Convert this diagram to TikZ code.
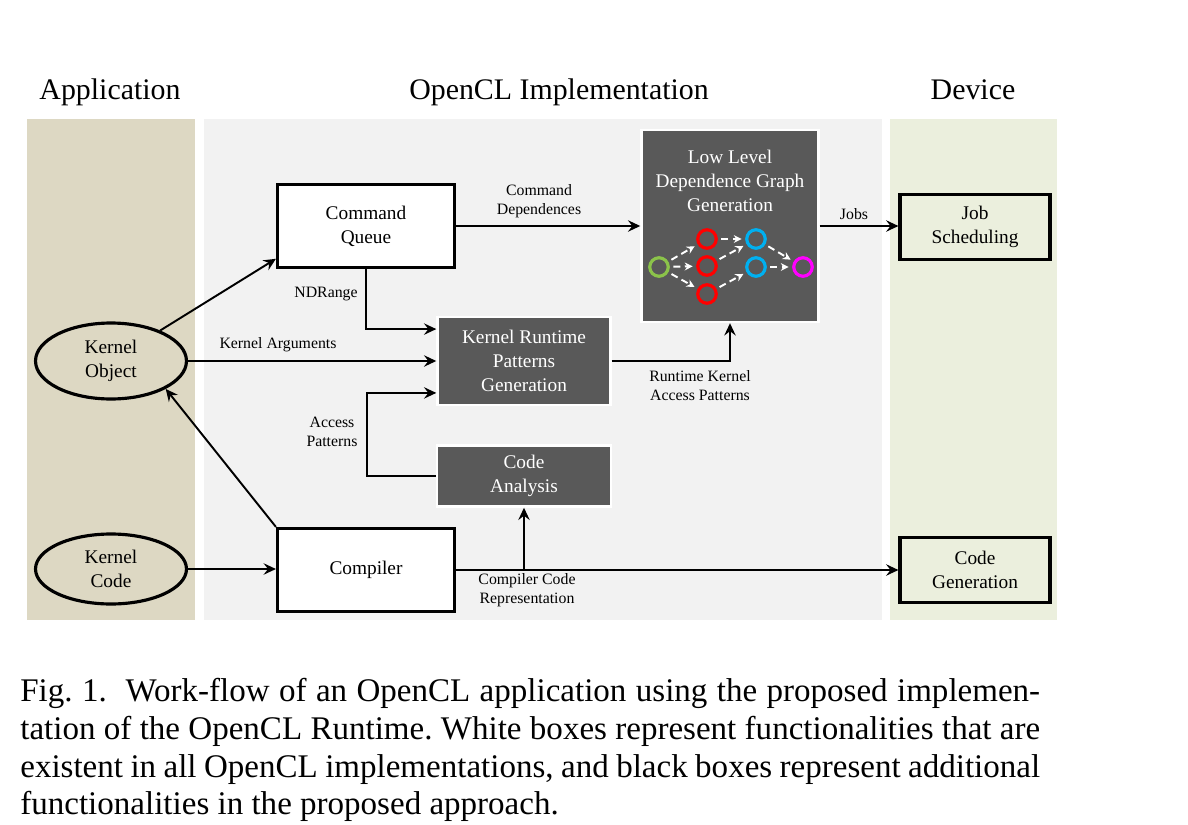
\documentclass[tikz,border=0pt]{standalone}
\usepackage{fontspec}
\setmainfont{Liberation Serif}
\usetikzlibrary{arrows.meta,shapes.geometric,calc}
\definecolor{appbg}{RGB}{221,216,195}
\definecolor{implbg}{RGB}{242,242,242}
\definecolor{devbg}{RGB}{235,239,221}
\definecolor{boxgray}{RGB}{89,89,89}
\definecolor{nodegreen}{RGB}{139,195,74}
\definecolor{nodeblue}{RGB}{0,176,240}
\definecolor{nodepink}{RGB}{255,0,255}
\frenchspacing
\begin{document}
\begin{tikzpicture}[x=0.02cm,y=-0.02cm,
		>={Stealth[length=7pt,width=6.5pt,inset=2.5pt]},
		conn/.style={->,line width=1.1pt},
		boxtext/.style={align=center,font=\fontsize{11}{13.6}\selectfont},
		whitebox/.style={boxtext,draw,line width=1.8pt,fill=white,minimum width=3.54cm,minimum height=1.66cm},
		darkbox/.style={boxtext,draw=white,line width=1.4pt,fill=boxgray,text=white},
		devbox/.style={boxtext,draw,line width=1.8pt,fill=devbg,minimum width=3.0cm,minimum height=1.3cm},
		kernel/.style={boxtext,ellipse,draw,line width=1.8pt,fill=appbg,inner sep=1pt,minimum width=3.02cm,minimum height=1.52cm},
		lbl/.style={align=center,inner sep=1pt,font=\fontsize{9}{10.8}\selectfont},
		title/.style={anchor=base,font=\fontsize{17}{20}\selectfont},
		gnode/.style={circle,draw,line width=1.8pt,minimum size=0.37cm,inner sep=0pt},
		gedge/.style={white,line width=1.1pt,dash pattern=on 4pt off 2.5pt,shorten <=2pt,shorten >=2pt,-{Stealth[length=4.5pt,width=4.5pt]}}]
	\useasboundingbox (0,0) rectangle (1188,825);
	\fill[appbg] (27,119) rectangle (195,620);
	\fill[implbg] (204,119) rectangle (882,620);
	\fill[devbg] (890,119) rectangle (1057,620);
	\node[title] (tApp) at (110,99) {Application};
	\node[title] (tImpl) at (559,99) {OpenCL Implementation};
	\node[title] (tDev) at (973,99) {Device};
	
	\node[kernel] (KO) at (111,361) {Kernel\\Object};
	\node[kernel,minimum height=1.4cm] (KC) at (111,569) {Kernel\\Code};
	\node[whitebox] (CQ) at (366,226) {Command\\Queue};
	\node[whitebox] (CP) at (366,570) {Compiler};
	\node[darkbox,minimum width=3.46cm,minimum height=1.76cm] (KR) at (524,361) {Kernel Runtime\\Patterns\\Generation};
	\node[darkbox,minimum width=3.48cm,minimum height=1.22cm] (CA) at (524,476) {Code\\Analysis};
	\node[darkbox,minimum width=3.54cm,minimum height=3.84cm] (LL) at (730,226) {};
	\node[boxtext,text=white] (LLt) at (730,181) {Low Level\\Dependence Graph\\Generation};
	\node[devbox] (JS) at (975,227) {Job\\Scheduling};
	\node[devbox] (CG) at (975,570) {Code\\Generation};
	
	\foreach \n/\x/\y/\c in {g/659/267/nodegreen,r1/707/239/red,r2/707/266/red,r3/707/294/red,b1/756/239/nodeblue,b2/756/267/nodeblue,m/803/267/nodepink}
		\node[gnode,draw=\c] (\n) at (\x,\y) {};
	\foreach \a/\b in {g/r1,g/r2,g/r3,r1/b1,r2/b1,r3/b2,b1/m,b2/m}
		\draw[gedge] (\a) -- (\b);
	
	\draw[conn] (KO) -- (CQ.200);
	\draw[conn] (KO.east) -- (KO.east -| KR.west);
	\node[lbl] (lKA) at (278,345) {Kernel Arguments};
	\draw[conn] (KC.east) -- (KC.east -| CP.west);
	\draw[conn] (CP.north west) -- (KO.-27);
	\draw[conn] (CQ.east) -- (CQ.east -| LL.west);
	\node[lbl] (lCD) at (539,201) {Command\\Dependences};
	\draw[conn] (CQ.south) |- (KR.160);
	\node[lbl] (lND) at (326,294) {NDRange};
	\draw[conn] (CA.west) -- ++(-69,0) |- (KR.200);
	\node[lbl] (lAP) at (332,432) {Access\\Patterns};
	\draw[conn] (KR.east) -| (LL.south);
	\node[lbl] (lRK) at (700,386) {Runtime Kernel\\Access Patterns};
	\draw[conn] (LL.east) -- (LL.east -| JS.west);
	\node[lbl] (lJ) at (854,214) {Jobs};
	\draw[conn] (CP.east) -- (CP.east -| CG.west);
	\draw[conn] (CP.east -| CA.south) -- (CA.south);
	\node[lbl] (lCC) at (527,590) {Compiler Code\\Representation};
	
	\node[anchor=north west,inner sep=0pt,align=left,font=\fontsize{18.8}{21.5}\selectfont] (cap) at (20,678) {\makebox[20.4cm][s]{Fig. 1.\ \ Work-flow of an OpenCL application using the proposed implemen-}\\
		\makebox[20.4cm][s]{tation of the OpenCL Runtime. White boxes represent functionalities that are}\\
		\makebox[20.4cm][s]{existent in all OpenCL implementations, and black boxes represent additional}\\
		functionalities in the proposed approach.};
\end{tikzpicture}
\end{document}
